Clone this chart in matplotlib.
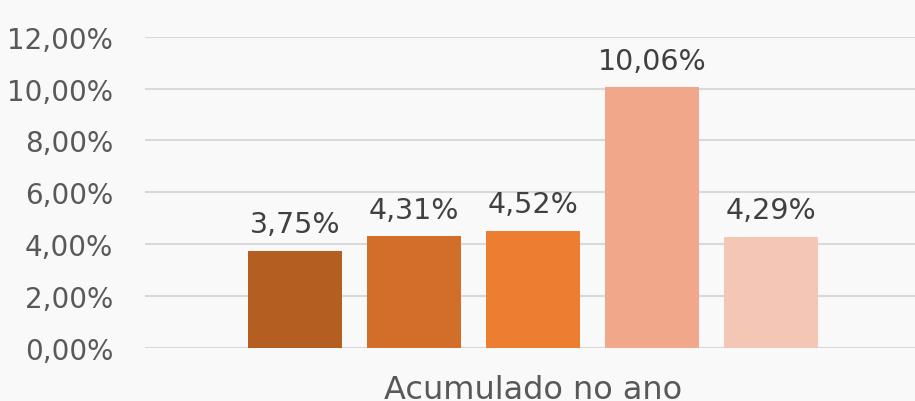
import matplotlib.pyplot as plt
import numpy as np

# dados do grafico
categoria = "Acumulado no ano"
valores = [3.75, 4.31, 4.52, 10.06, 4.29]
cores = ["#B45E21", "#D36E2A", "#ED7D31", "#F1A88A", "#F4C6B6"]
yticks = [0, 2, 4, 6, 8, 10, 12]


def fmt_pct(v):
    return f"{v:.2f}".replace(".", ",") + "%"


fig = plt.figure(figsize=(9.15, 4.02), dpi=100)
fig.patch.set_facecolor("#f9f9f9")
ax = fig.add_axes([145 / 915, 53 / 402, 770 / 915, (349 - 37.7) / 402])
ax.set_facecolor("none")

x = np.arange(len(valores))
barras = ax.bar(x, valores, width=0.79, color=cores, zorder=3)

for b, v in zip(barras, valores):
    ax.annotate(fmt_pct(v), (b.get_x() + b.get_width() / 2, v),
                xytext=(0, 9), textcoords="offset points",
                ha="center", va="bottom", fontsize=20.5, color="#404040")

ax.set_xlim(-1.26, 5.21)
ax.set_ylim(0, 12)
ax.set_yticks(yticks)
ax.set_yticklabels([fmt_pct(t) for t in yticks], fontsize=20, color="#595959")
ax.set_xticks([(len(valores) - 1) / 2])
ax.set_xticklabels([categoria], fontsize=23, color="#595959")
ax.tick_params(axis="both", length=0)
ax.tick_params(axis="y", pad=23)
ax.tick_params(axis="x", pad=19)

ax.grid(axis="y", color="#d9d9d9", linewidth=1.5, zorder=0)
for s in ax.spines.values():
    s.set_visible(False)

plt.savefig("out.png", dpi=100, facecolor=fig.get_facecolor())
